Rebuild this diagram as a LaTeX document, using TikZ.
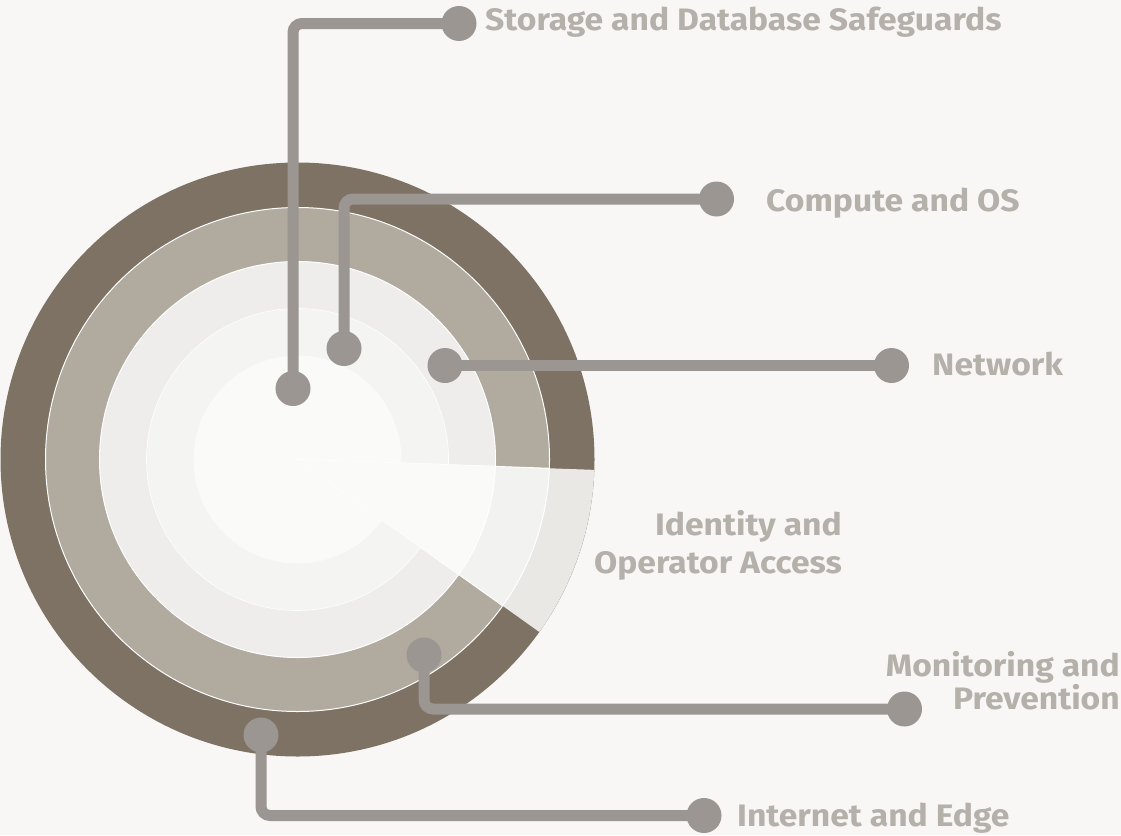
\documentclass[tikz,border=0pt]{standalone}
\usepackage{fontspec}
\setmainfont{Fira Sans}
\definecolor{bgc}{HTML}{F8F7F5}
\definecolor{ringA}{HTML}{7D7264}
\definecolor{ringB}{HTML}{B1AA9F}
\definecolor{ringC}{HTML}{EEEDEB}
\definecolor{ringD}{HTML}{F4F4F3}
\definecolor{ringE}{HTML}{FAFAF9}
\definecolor{wedgeA}{HTML}{E9E8E5}
\definecolor{wedgeB}{HTML}{F2F2F0}
\definecolor{connc}{HTML}{9B9691}
\definecolor{txtc}{HTML}{B5B0AA}
\pgfdeclarelayer{back}
\pgfdeclarelayer{mid}
\pgfsetlayers{back,mid,main}
\tikzset{
  dot/.style={circle, fill=connc, minimum size=35pt, inner sep=0pt},
  connector/.style={draw=connc, line width=11pt, rounded corners=9pt},
  label/.style={text=txtc, inner sep=0pt, xscale=1.085, font=\bfseries\fontsize{31}{33}\selectfont},
  ringedge/.style={draw=white, line width=1pt}
}
\begin{document}
\begin{tikzpicture}[x=1pt,y=-1pt]
\begin{pgfonlayer}{back}
\fill[bgc] (0,0) rectangle (1121,835);
\coordinate (C) at (297.5,459.5);
\fill[ringA] (C) circle[radius=297];
\filldraw[fill=ringB, ringedge] (C) circle[radius=252];
\filldraw[fill=ringC, ringedge] (C) circle[radius=198];
\filldraw[fill=ringD, draw=white, line width=0.6pt] (C) circle[radius=151];
\fill[ringE] (C) circle[radius=104];
% cut-out wedge
\fill[wedgeA] (C) -- ++(2:297) arc[start angle=2, end angle=35.5, radius=297] -- cycle;
\filldraw[fill=wedgeB, ringedge] (C) -- ++(2:252) arc[start angle=2, end angle=35.5, radius=252] -- cycle;
\filldraw[fill=ringE, ringedge] (C) -- ++(2:198) arc[start angle=2, end angle=35.5, radius=198] -- cycle;
\fill[ringE] (C) -- ++(2:196) arc[start angle=2, end angle=35.5, radius=196] -- cycle;
\end{pgfonlayer}
\useasboundingbox (0,0) rectangle (1121,835);

% dots
\node[dot] (s1) at (293,388.5) {};
\node[dot] (s2) at (459,23.5) {};
\node[dot] (c1) at (344,348.5) {};
\node[dot] (c2) at (716.5,199) {};
\node[dot] (n1) at (445,365.5) {};
\node[dot] (n2) at (891.5,365.5) {};
\node[dot] (m1) at (424,655) {};
\node[dot] (m2) at (904.5,709) {};
\node[dot] (i1) at (261,735) {};
\node[dot] (i2) at (704,815.5) {};

% connectors
\begin{pgfonlayer}{mid}
\draw[connector] (s1.center) |- (s2.center);
\draw[connector] (c1.center) |- (c2.center);
\draw[connector] (n1.center) -- (n2.center);
\draw[connector] (m1.center) |- (m2.center);
\draw[connector] (i1.center) |- (i2.center);
\end{pgfonlayer}

% labels
\node[label, anchor=base west] (ls) at (485,30.5) {Storage and Database Safeguards};
\node[label, anchor=base west] (lc) at (766,211.5) {Compute and OS};
\node[label, anchor=base west] (ln) at (932,375) {Network};
\node[label, anchor=east, align=right, font=\bfseries\fontsize{31}{38}\selectfont] (li) at (842,545) {Identity and\\Operator Access};
\node[label, anchor=east, align=right, font=\bfseries\fontsize{31}{25}\selectfont] (lm) at (1120,681) {Monitoring and\\Prevention};
\node[label, anchor=base west] (le) at (737,826.5) {Internet and Edge};
\end{tikzpicture}
\end{document}
